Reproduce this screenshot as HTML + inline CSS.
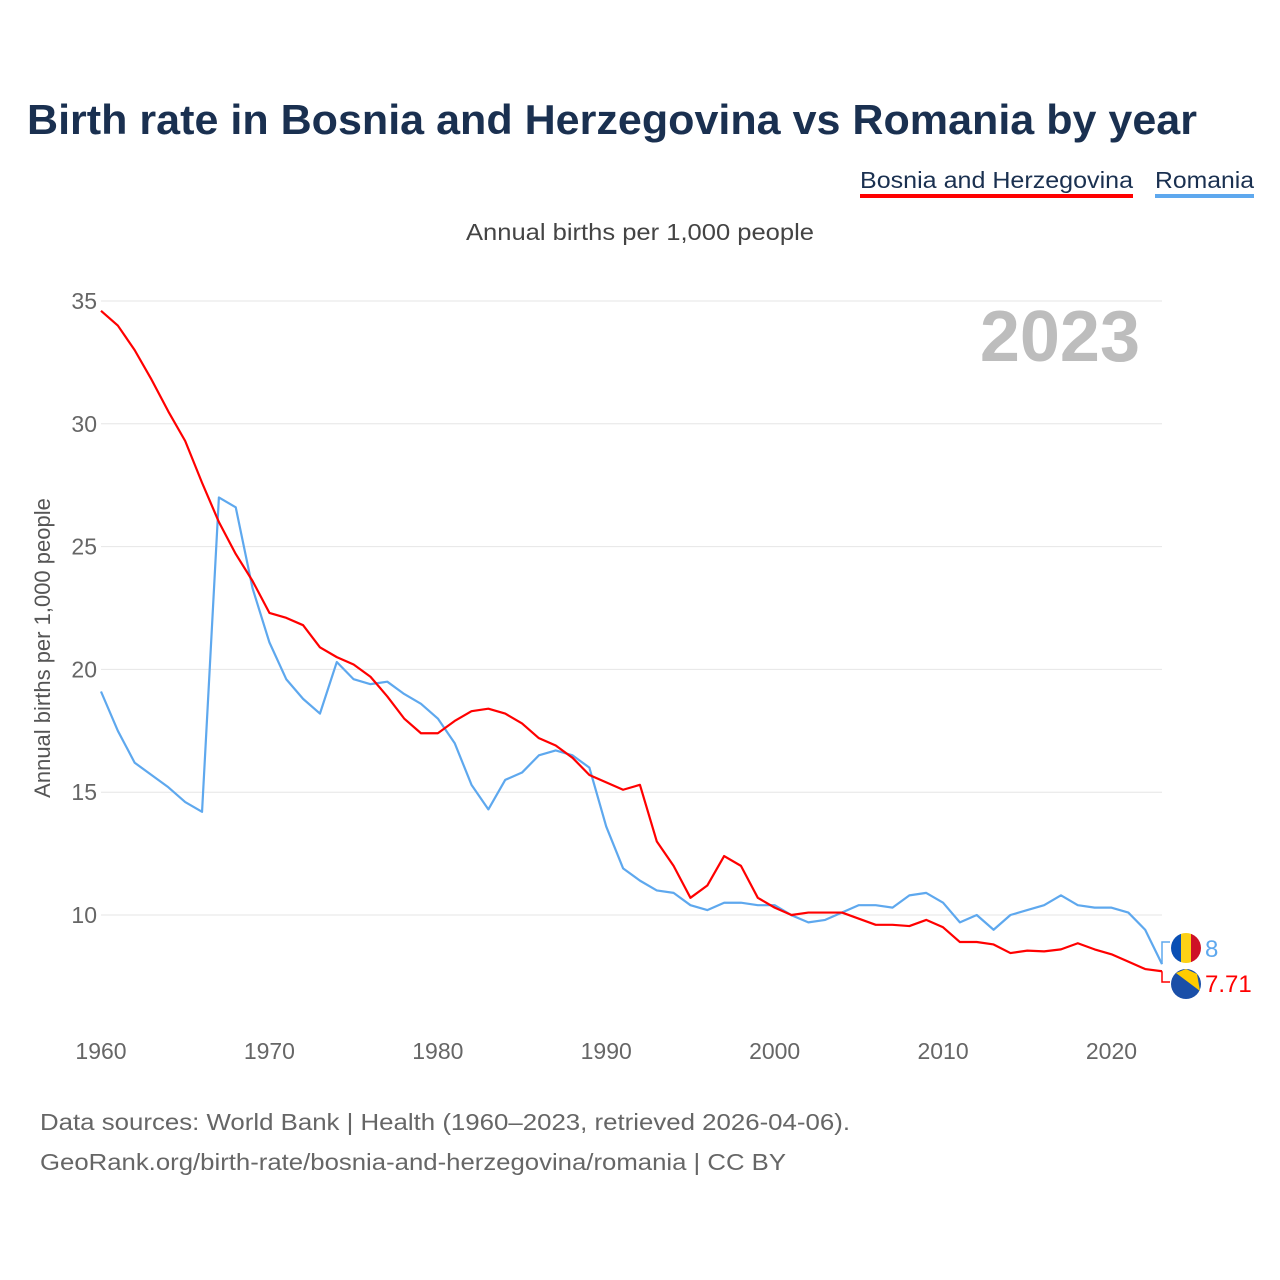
<!DOCTYPE html>
<html><head><meta charset="utf-8">
<style>
body{margin:0;background:#fff;font-family:"Liberation Sans",sans-serif;}
#wrap{position:relative;width:1280px;height:1280px;overflow:hidden;}
</style></head>
<body><div id="wrap">
<svg id="chart" width="1280" height="1280">
<defs><clipPath id="c1"><circle cx="1186" cy="948" r="15"/></clipPath></defs>
<text x="27" y="134" font-size="42" font-weight="bold" fill="#1a3050" textLength="1170" lengthAdjust="spacingAndGlyphs">Birth rate in Bosnia and Herzegovina vs Romania by year</text>
<g><text x="860" y="188" font-size="23" fill="#1a3050" textLength="273" lengthAdjust="spacingAndGlyphs">Bosnia and Herzegovina</text><rect x="860" y="194" width="273" height="4" fill="#ff0000"/></g>
<g><text x="1155" y="188" font-size="23" fill="#1a3050" textLength="99" lengthAdjust="spacingAndGlyphs">Romania</text><rect x="1155" y="194" width="99" height="4" fill="#5ea8ee"/></g>
<text x="466" y="240" font-size="23" fill="#444" textLength="348" lengthAdjust="spacingAndGlyphs">Annual births per 1,000 people</text>
<text x="1140" y="361" font-size="72" font-weight="bold" fill="#bdbdbd" text-anchor="end">2023</text>
<text transform="translate(50,648) rotate(-90)" font-size="22" fill="#555" text-anchor="middle">Annual births per 1,000 people</text>
<g id="grid"></g><g id="xt"></g><g id="lines"></g>
<text x="40" y="1130" font-size="23" fill="#666" textLength="810" lengthAdjust="spacingAndGlyphs">Data sources: World Bank | Health (1960–2023, retrieved 2026-04-06).</text>
<text x="40" y="1170" font-size="23" fill="#666" textLength="746" lengthAdjust="spacingAndGlyphs">GeoRank.org/birth-rate/bosnia-and-herzegovina/romania | CC BY</text>
</svg></div>
<script>
const years=[];for(let y=1960;y<=2023;y++)years.push(y);
const bosnia=[34.6,34.0,33.0,31.8,30.5,29.3,27.6,26.0,24.7,23.6,22.3,22.1,21.8,20.9,20.5,20.2,19.7,18.9,18.0,17.4,17.4,17.9,18.3,18.4,18.2,17.8,17.2,16.9,16.4,15.7,15.4,15.1,15.3,13.0,12.0,10.7,11.2,12.4,12.0,10.7,10.3,10.0,10.1,10.1,10.1,9.85,9.6,9.6,9.55,9.8,9.5,8.9,8.9,8.8,8.45,8.55,8.52,8.6,8.85,8.6,8.4,8.1,7.8,7.71];
const romania=[19.1,17.5,16.2,15.7,15.2,14.6,14.2,27.0,26.6,23.3,21.1,19.6,18.8,18.2,20.3,19.6,19.4,19.5,19.0,18.6,18.0,17.0,15.3,14.3,15.5,15.8,16.5,16.7,16.5,16.0,13.6,11.9,11.4,11.0,10.9,10.4,10.2,10.5,10.5,10.4,10.4,9.99,9.7,9.8,10.1,10.4,10.4,10.3,10.8,10.9,10.5,9.7,10.0,9.4,10.0,10.2,10.4,10.8,10.4,10.3,10.3,10.1,9.4,8.0];
const yTicks=[10,15,20,25,30,35];
const xTicks=[1960,1970,1980,1990,2000,2010,2020];
const NS="http://www.w3.org/2000/svg";
const xs=y=>101+(y-1960)*(1061/63);
const ys=v=>915-(v-10)*24.56;
function mk(t,a,p){const e=document.createElementNS(NS,t);for(const k in a)e.setAttribute(k,a[k]);p.appendChild(e);return e;}
const g=document.getElementById('grid');
yTicks.forEach(v=>{const l=mk('line',{x1:101,x2:1162,y1:ys(v),y2:ys(v),stroke:'#e6e6e6','stroke-width':1},g);


const t=mk('text',{x:97,y:ys(v)+8,'font-size':23,fill:'#666','text-anchor':'end'},g);t.textContent=v;

});
const xt=document.getElementById('xt');
xTicks.forEach(v=>{const t=mk('text',{x:xs(v),y:1059,'font-size':23,fill:'#666','text-anchor':'middle'},xt);t.textContent=v;

});
const L=document.getElementById('lines');
function line(d,c,n){const p=mk('polyline',{points:d.map((v,i)=>xs(years[i])+','+ys(v)).join(' '),fill:'none',stroke:c,'stroke-width':2.2,'stroke-linejoin':'round'},L);

}
line(romania,'#5ea8ee','romania-line');
line(bosnia,'#ff0000','bosnia-line');
const xe=xs(2023);
const ry=ys(romania[63]), by=ys(bosnia[63]);
const rl=948, bl=984;
mk('polyline',{points:`${xe},${ry} ${xe},${rl-6} ${xe+8},${rl-6}`,fill:'none',stroke:'#5ea8ee','stroke-width':1.5},L);
mk('polyline',{points:`${xe},${by} ${xe},${bl-2} ${xe+8},${bl-2}`,fill:'none',stroke:'#ff0000','stroke-width':1.5},L);
const rf=mk('g',{'clip-path':'url(#c1)'},L);


mk('rect',{x:1171,y:rl-15,width:10,height:30,fill:'#0a4fb4'},rf);
mk('rect',{x:1181,y:rl-15,width:10,height:30,fill:'#fcd116'},rf);
mk('rect',{x:1191,y:rl-15,width:10,height:30,fill:'#ce1126'},rf);
const bf=mk('g',{},L);


mk('circle',{cx:1186,cy:bl,r:15,fill:'#1a4fa8'},bf);
mk('polygon',{points:`1176,${bl-11} 1186,${bl-15} 1197,${bl-10} 1200,${bl+7}`,fill:'#fecb00'},bf);
const rt=mk('text',{x:1205,y:rl+9,'font-size':24,fill:'#5ea8ee'},L);rt.textContent=romania[63];


const bt=mk('text',{x:1205,y:bl+8,'font-size':24,fill:'#ff0000'},L);bt.textContent=bosnia[63];


</script>
</body></html>
